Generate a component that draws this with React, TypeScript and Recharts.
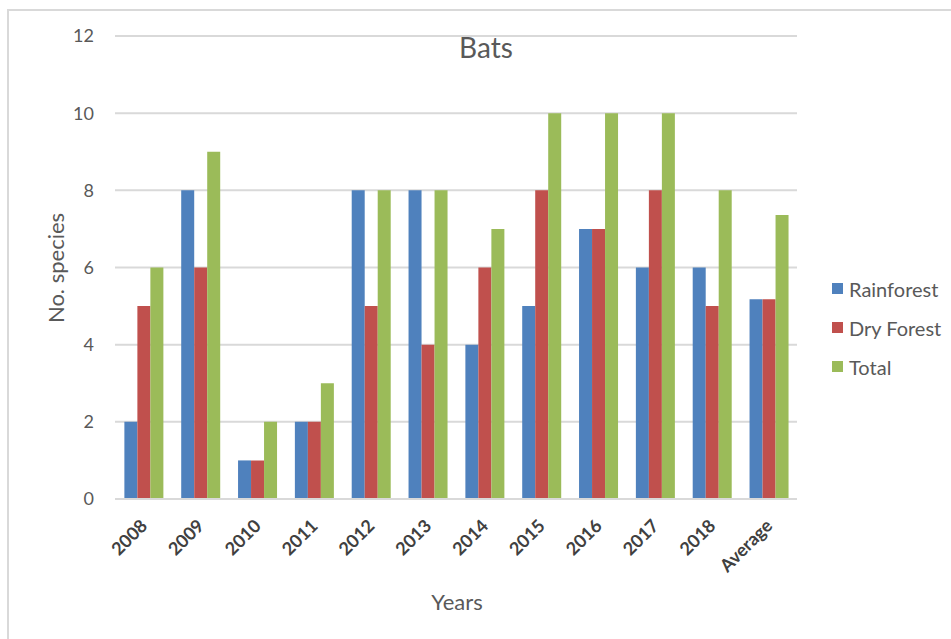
import { BarChart, Bar, XAxis, YAxis, CartesianGrid } from "recharts";

const years = ["2008", "2009", "2010", "2011", "2012", "2013", "2014", "2015", "2016", "2017", "2018", "Average"];
const rainforest = [2, 8, 1, 2, 8, 8, 4, 5, 7, 6, 6, 5.18];
const dryForest = [5, 6, 1, 2, 5, 4, 6, 8, 7, 8, 5, 5.18];
const total = [6, 9, 2, 3, 8, 8, 7, 10, 10, 10, 8, 7.36];
const yTicks = [0, 2, 4, 6, 8, 10, 12];

const series = [
  { key: "rainforest", name: "Rainforest", color: "#4f81bd" },
  { key: "dryForest", name: "Dry Forest", color: "#c0504d" },
  { key: "total", name: "Total", color: "#9bbb59" },
];

const data = years.map((year, i) => ({
  year,
  rainforest: rainforest[i],
  dryForest: dryForest[i],
  total: total[i],
}));

const font = "Lato, 'Open Sans', sans-serif";

function YearTick({ x, y, payload }: any) {
  // rotated labels hang from the tick, end of text near the axis
  const tx = x + 5;
  const ty = y + 20;
  return (
    <text
      x={tx}
      y={ty}
      transform={`rotate(-45, ${tx}, ${ty})`}
      textAnchor="end"
      fontFamily={font}
      fontSize={18}
      fontWeight={700}
      fill="#404040"
    >
      {payload.value}
    </text>
  );
}

export default function App() {
  return (
    <div style={{ position: "absolute", left: 0, top: 0, width: 951, height: 639, background: "#fff", fontFamily: font }}>
      <div
        style={{
          position: "absolute",
          left: 7,
          top: 9,
          width: 960,
          height: 640,
          borderTop: "2px solid #d9d9d9",
          borderLeft: "2px solid #d9d9d9",
        }}
      />
      <BarChart
        width={951}
        height={639}
        data={data}
        margin={{ top: 36, right: 154, left: 0, bottom: 0 }}
        barCategoryGap="16.5%"
        barGap={0}
      >
        <CartesianGrid vertical={false} stroke="#d9d9d9" strokeWidth={2} />
        <XAxis
          dataKey="year"
          height={140}
          interval={0}
          tick={<YearTick />}
          tickLine={false}
          axisLine={{ stroke: "#d9d9d9", strokeWidth: 2 }}
        />
        <YAxis
          width={115}
          domain={[0, 12]}
          ticks={yTicks}
          axisLine={false}
          tickLine={false}
          tickMargin={15}
          tick={{ fontSize: 18, fill: "#595959", fontFamily: font }}
        />
        {series.map((s) => (
          <Bar key={s.key} dataKey={s.key} name={s.name} fill={s.color} isAnimationActive={false} />
        ))}
      </BarChart>
      <div style={{ position: "absolute", left: 832, top: 269 }}>
        {series.map((s) => (
          <div key={s.key} style={{ display: "flex", alignItems: "center", height: 39 }}>
            <span style={{ width: 11, height: 11, background: s.color, marginRight: 6 }} />
            <span style={{ fontSize: 20, color: "#595959" }}>{s.name}</span>
          </div>
        ))}
      </div>
      <div style={{ position: "absolute", left: 0, width: 972, top: 30, textAlign: "center", fontSize: 28, color: "#595959" }}>
        Bats
      </div>
      <div style={{ position: "absolute", left: 0, width: 914, top: 588, textAlign: "center", fontSize: 22, color: "#595959" }}>
        Years
      </div>
      <div
        style={{
          position: "absolute",
          left: 55,
          top: 268,
          transform: "translate(-50%, -50%) rotate(-90deg)",
          whiteSpace: "nowrap",
          fontSize: 22,
          color: "#595959",
        }}
      >
        No. species
      </div>
    </div>
  );
}
